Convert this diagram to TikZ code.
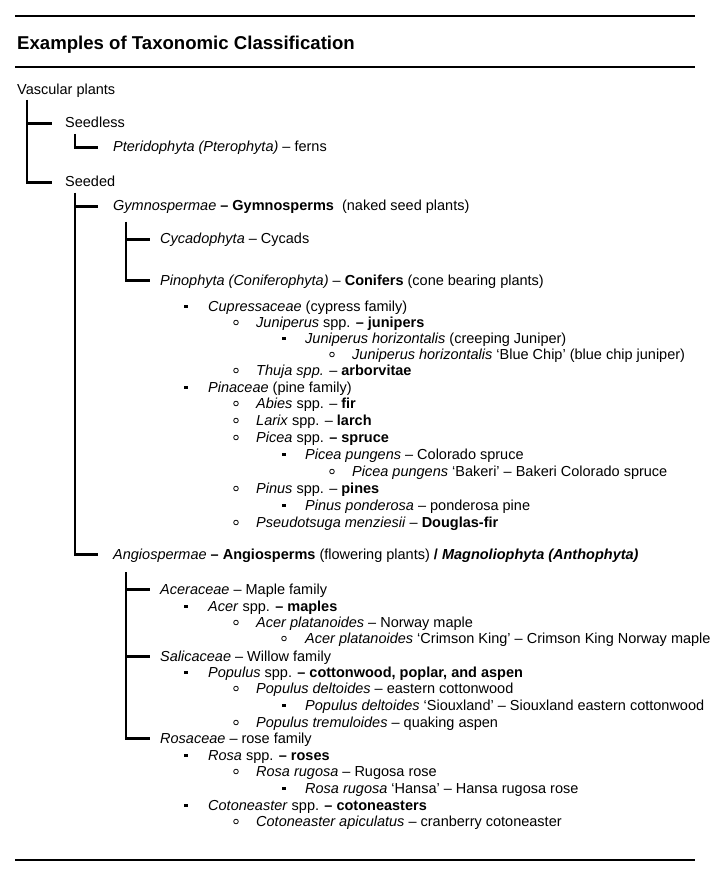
\documentclass[tikz,border=0pt]{standalone}
\usepackage{fontspec}
\setmainfont{Liberation Sans}
\begin{document}
\begin{tikzpicture}[x=1pt,y=-1pt]
\tikzset{
 txt/.style={anchor=base west, inner sep=0pt, font=\fontsize{14.5}{17}\selectfont},
 ttl/.style={anchor=base west, inner sep=0pt, font=\fontsize{18.6}{22}\selectfont\bfseries},
 tree/.style={line width=2.9pt},
 sqb/.style={rectangle, fill=black, minimum size=3.8pt, inner sep=0pt},
 cib/.style={circle, draw=black, line width=0.8pt, minimum size=4.6pt, inner sep=0pt},
 rulebar/.style={line width=1.6pt}
}
\newcommand\lsti[6]{%
  \node[#2] (#1b) at (#3,#5-4.5) {};
  \node[txt] (#1) at (#4,#5) {#6};}
\useasboundingbox (0,0) rectangle (720,882);
% rules
\draw[rulebar] (15,16) -- (695,16);
\draw[line width=2pt] (15,67) -- (695,67);
\draw[rulebar] (15,860) -- (695,860);
% title
\node[ttl] (title) at (17,50) {Examples of Taxonomic Classification};
% tree nodes
\node[txt] (vp) at (17,95) {Vascular plants};
\node[txt] (seedless) at (65,128) {Seedless};
\node[txt] (pter) at (113,152) {\textit{Pteridophyta (Pterophyta)} – ferns};
\node[txt] (seeded) at (65,187) {Seeded};
\node[txt] (gym) at (113,211) {\textit{Gymnospermae} \textbf{– Gymnosperms}\ \ (naked seed plants)};
\node[txt] (cyc) at (160,244) {\textit{Cycadophyta} – Cycads};
\node[txt] (pino) at (160,285) {\textit{Pinophyta (Coniferophyta)} – \textbf{Conifers} (cone bearing plants)};
% conifer list
\lsti{cup}{sqb}{186}{208}{311}{\textit{Cupressaceae} (cypress family)}
\lsti{jun}{cib}{236}{256}{327}{\textit{Juniperus} spp. \textbf{– junipers}}
\lsti{junh}{sqb}{284}{305}{343}{\textit{Juniperus horizontalis} (creeping Juniper)}
\lsti{junb}{cib}{332}{352}{359}{\textit{Juniperus horizontalis} ‘Blue Chip’ (blue chip juniper)}
\lsti{thu}{cib}{236}{256}{375}{\textit{Thuja spp.} – \textbf{arborvitae}}
\lsti{pin}{sqb}{186}{208}{392}{\textit{Pinaceae} (pine family)}
\lsti{abi}{cib}{236}{256}{408}{\textit{Abies} spp. – \textbf{fir}}
\lsti{lar}{cib}{236}{256}{425}{\textit{Larix} spp. – \textbf{larch}}
\lsti{pic}{cib}{236}{256}{442}{\textit{Picea} spp. \textbf{– spruce}}
\lsti{picp}{sqb}{284}{305}{459}{\textit{Picea pungens} – Colorado spruce}
\lsti{picb}{cib}{332}{352}{476}{\textit{Picea pungens} ‘Bakeri’ – Bakeri Colorado spruce}
\lsti{pinu}{cib}{236}{256}{493}{\textit{Pinus} spp. – \textbf{pines}}
\lsti{pinp}{sqb}{284}{305}{510}{\textit{Pinus ponderosa} – ponderosa pine}
\lsti{pse}{cib}{236}{256}{527}{\textit{Pseudotsuga menziesii} – \textbf{Douglas-fir}}
% angiosperms
\node[txt] (ang) at (113,559) {\textit{Angiospermae} \textbf{– Angiosperms} (flowering plants) \textbf{/ \textit{Magnoliophyta (Anthophyta)}}};
\node[txt] (ace) at (160,594) {\textit{Aceraceae} – Maple family};
\lsti{acer}{sqb}{186}{208}{611}{\textit{Acer} spp. \textbf{– maples}}
\lsti{acep}{cib}{236}{256}{627}{\textit{Acer platanoides} – Norway maple}
\lsti{acec}{cib}{284}{305}{643}{\textit{Acer platanoides} ‘Crimson King’ – Crimson King Norway maple}
\node[txt] (sal) at (160,661) {\textit{Salicaceae} – Willow family};
\lsti{pop}{sqb}{186}{208}{677}{\textit{Populus} spp. \textbf{– cottonwood, poplar, and aspen}}
\lsti{popd}{cib}{236}{256}{693}{\textit{Populus deltoides} – eastern cottonwood}
\lsti{pops}{sqb}{284}{305}{710}{\textit{Populus deltoides} ‘Siouxland’ – Siouxland eastern cottonwood}
\lsti{popt}{cib}{236}{256}{727}{\textit{Populus tremuloides} – quaking aspen}
\node[txt] (ros) at (160,743) {\textit{Rosaceae} – rose family};
\lsti{rosa}{sqb}{186}{208}{760}{\textit{Rosa} spp. \textbf{– roses}}
\lsti{rosr}{cib}{236}{256}{776}{\textit{Rosa rugosa} – Rugosa rose}
\lsti{rosh}{sqb}{284}{305}{793}{\textit{Rosa rugosa} ‘Hansa’ – Hansa rugosa rose}
\lsti{cot}{sqb}{186}{208}{810}{\textit{Cotoneaster} spp. \textbf{– cotoneasters}}
\lsti{cota}{cib}{236}{256}{826}{\textit{Cotoneaster apiculatus} – cranberry cotoneaster}
% tree connectors
\draw[tree] ([xshift=10pt,yshift=-5pt]vp.base west) |- ([xshift=-13pt,yshift=4.5pt]seedless.base west);
\draw[tree] ([xshift=10pt,yshift=-5pt]vp.base west) |- ([xshift=-13pt,yshift=4.5pt]seeded.base west);
\draw[tree] ([xshift=10pt,yshift=-6pt]seedless.base west) |- ([xshift=-15pt,yshift=4.5pt]pter.base west);
\draw[tree] ([xshift=10pt,yshift=-6pt]seeded.base west) |- ([xshift=-15pt,yshift=4.5pt]gym.base west);
\draw[tree] ([xshift=10pt,yshift=-6pt]seeded.base west) |- ([xshift=-15pt,yshift=4.5pt]ang.base west);
\draw[tree] ([xshift=13pt,yshift=-11pt]gym.base west) |- ([xshift=-10pt,yshift=4.5pt]cyc.base west);
\draw[tree] ([xshift=13pt,yshift=-11pt]gym.base west) |- ([xshift=-10pt,yshift=4.5pt]pino.base west);
\draw[tree] ([xshift=13pt,yshift=-13pt]ang.base west) |- ([xshift=-10pt,yshift=4.5pt]ace.base west);
\draw[tree] ([xshift=13pt,yshift=-13pt]ang.base west) |- ([xshift=-10pt,yshift=4.5pt]sal.base west);
\draw[tree] ([xshift=13pt,yshift=-13pt]ang.base west) |- ([xshift=-10pt,yshift=4.5pt]ros.base west);
\end{tikzpicture}
\end{document}
